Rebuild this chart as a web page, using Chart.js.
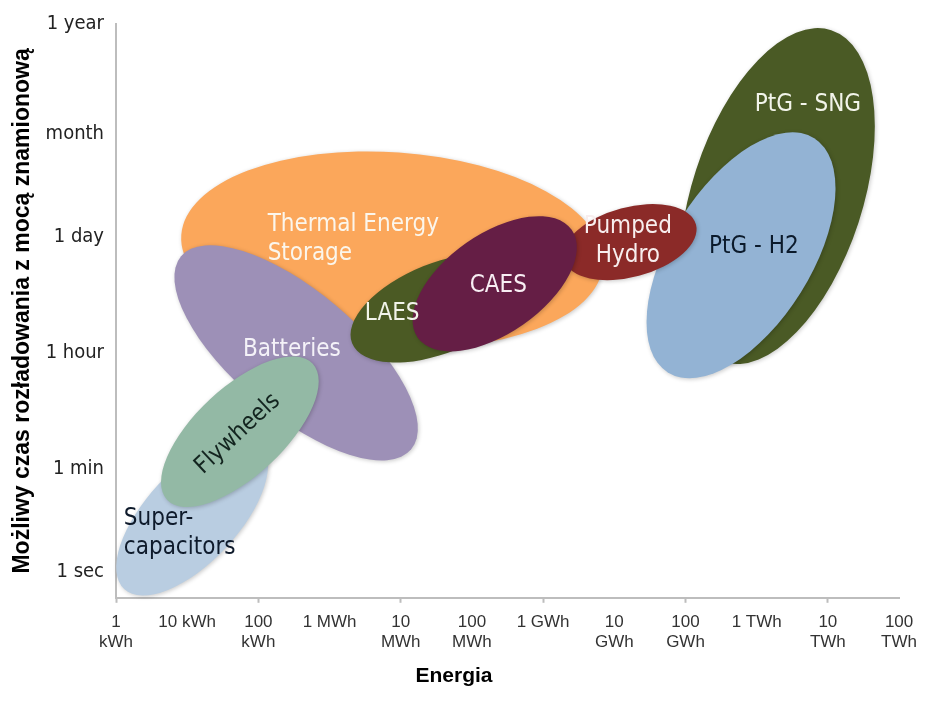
<!DOCTYPE html>
<html>
<head>
<meta charset="utf-8">
<script src="https://cdn.jsdelivr.net/npm/chart.js@4.4.1/dist/chart.umd.min.js"></script>
<style>
  html, body { margin: 0; padding: 0; background: #fff; }
</style>
</head>
<body>
<canvas id="myChart" width="926" height="705"></canvas>
<script>
// energy axis: log10 of kWh, 0 = 1 kWh ... 11 = 100 TWh
const xTickLabels = [['1', 'kWh'], '10 kWh', ['100', 'kWh'], '1 MWh', ['10', 'MWh'], ['100', 'MWh'],
  '1 GWh', ['10', 'GWh'], ['100', 'GWh'], '1 TWh', ['10', 'TWh'], ['100', 'TWh']];

// discharge time axis (uneven steps in the original)
const yTickValues = [0, 0.94, 2.0, 3.06, 4.0, 5.0];
const yTickLabels = ['1 sec', '1 min', '1 hour', '1 day', 'month', '1 year'];

// technologies, in drawing order (back to front)
const technologies = ['Thermal Energy Storage', 'Batteries', 'Super-capacitors', 'Flywheels', 'LAES',
  'PtG - SNG', 'PtG - H2', 'Pumped Hydro', 'CAES'];
const labelLines = [['Thermal Energy', 'Storage'], ['Batteries'], ['Super-', 'capacitors'], ['Flywheels'], ['LAES'],
  ['PtG - SNG'], ['PtG - H2'], ['Pumped', 'Hydro'], ['CAES']];

// region of each technology: centre, half axes (in energy decades), tilt in degrees
const centerEnergy   = [3.88, 2.53, 1.07, 1.74, 4.55, 9.29, 8.78, 7.22, 5.32];
const centerDuration = [2.94, 2.00, 0.51, 1.28, 2.41, 3.43, 2.89, 3.01, 2.63];
const spanMajor      = [2.97, 2.11, 1.40, 1.40, 1.33, 2.45, 1.94, 0.96, 1.32];
const spanMinor      = [1.37, 0.87, 0.65, 0.62, 0.63, 1.20, 0.99, 0.49, 0.70];
const tilt           = [-4, -40, 47, 43, 22, 72, 58, 15, 35];

// where the names sit
const labelEnergy   = [2.13, 2.47, 0.11, 1.71, 3.88, 9.72, 8.96, 7.19, 5.37];
const labelDuration = [3.04, 2.03, 0.35, 1.26, 2.36, 4.26, 2.97, 3.02, 2.61];

const fills = ['#fba75b', '#9d90b7', '#b9cde1', '#93b9a5', '#4b5a24', '#4a5a25', '#93b3d4', '#8b2a28', '#651e45'];
const textColors = ['#fbf6ec', '#f4f2f8', '#0e1a2b', '#13241f', '#f2f4ea', '#f2f4ea', '#0b1a2b', '#f8eeee', '#f8eef3'];
const labelAlign = ['left', 'center', 'left', 'center', 'center', 'center', 'center', 'center', 'center'];
const labelAngle = [0, 0, 0, 43, 0, 0, 0, 0, 0];

const labelFont = '24px "DejaVu Sans Condensed", "DejaVu Sans", sans-serif';

const ellipses = {
    id: 'ellipses',
    beforeDatasetsDraw(chart) {
        const {ctx, scales: {x, y}} = chart;
        const unit = x.getPixelForValue(1) - x.getPixelForValue(0);
        technologies.forEach((name, i) => {
            ctx.save();
            ctx.shadowColor = 'rgba(0,0,0,0.22)';
            ctx.shadowBlur = 4;
            ctx.shadowOffsetX = 1;
            ctx.shadowOffsetY = 1;
            ctx.fillStyle = fills[i];
            ctx.beginPath();
            ctx.ellipse(x.getPixelForValue(centerEnergy[i]), y.getPixelForValue(centerDuration[i]),
                spanMajor[i] * unit, spanMinor[i] * unit, -tilt[i] * Math.PI / 180, 0, Math.PI * 2);
            ctx.fill();
            ctx.restore();
        });
    },
    afterDatasetsDraw(chart) {
        const {ctx, scales: {x, y}} = chart;
        const lineH = 29;
        labelLines.forEach((lines, i) => {
            ctx.save();
            ctx.translate(x.getPixelForValue(labelEnergy[i]), y.getPixelForValue(labelDuration[i]));
            ctx.rotate(-labelAngle[i] * Math.PI / 180);
            ctx.font = labelFont;
            ctx.fillStyle = textColors[i];
            ctx.textAlign = labelAlign[i];
            ctx.textBaseline = 'middle';
            lines.forEach((t, k) => {
                ctx.fillText(t, 0, (k - (lines.length - 1) / 2) * lineH);
            });
            ctx.restore();
        });
    }
};

const data = {
    datasets: [{
        label: 'centres',
        data: technologies.map((t, i) => ({x: centerEnergy[i], y: centerDuration[i]})),
        pointRadius: 0,
        pointHoverRadius: 0
    }]
};

const config = {
    type: 'scatter',
    data: data,
    plugins: [ellipses],
    options: {
        responsive: false,
        animation: false,
        events: [],
        layout: {padding: {left: 8, right: 26, top: 18, bottom: 0}},
        plugins: {
            legend: {display: false},
            tooltip: {enabled: false},
            title: {
                display: true,
                position: 'bottom',
                text: 'Energia',
                color: '#000',
                font: {family: '"Liberation Sans", Arial, sans-serif', size: 21, weight: 'bold'},
                padding: {top: 0, bottom: 16}
            }
        },
        scales: {
            x: {
                type: 'linear',
                min: 0,
                max: 11,
                afterFit: (s) => { s.height = 66; },
                ticks: {
                    stepSize: 1,
                    autoSkip: false,
                    maxRotation: 0,
                    padding: 9,
                    color: '#333',
                    font: {family: '"Liberation Sans", Arial, sans-serif', size: 17, lineHeight: 1.2},
                    callback: (v, i) => xTickLabels[i]
                },
                grid: {
                    drawOnChartArea: false,
                    drawTicks: true,
                    tickLength: 5,
                    tickWidth: 2,
                    tickColor: (c) => c.index % 2 === 0 ? '#bdbdbd' : 'rgba(0,0,0,0)'
                },
                border: {color: '#bdbdbd', width: 2}
            },
            y: {
                type: 'linear',
                min: -0.235,
                max: 5,
                afterFit: (s) => { s.width = 108; },
                afterBuildTicks: (s) => { s.ticks = yTickValues.map(v => ({value: v})); },
                ticks: {
                    padding: 12,
                    color: '#222',
                    font: {family: '"DejaVu Sans Condensed", "DejaVu Sans", sans-serif', size: 20},
                    callback: (v, i) => yTickLabels[i]
                },
                grid: {drawOnChartArea: false, drawTicks: false},
                border: {color: '#bdbdbd', width: 2},
                title: {
                    display: true,
                    text: 'Możliwy czas rozładowania z mocą znamionową',
                    color: '#000',
                    font: {family: '"Liberation Sans", Arial, sans-serif', size: 23, weight: 'bold'},
                    padding: {top: 1, bottom: 0}
                }
            }
        }
    }
};

const ctx = document.getElementById('myChart').getContext('2d');
const chart = new Chart(ctx, config);
</script>
</body>
</html>
